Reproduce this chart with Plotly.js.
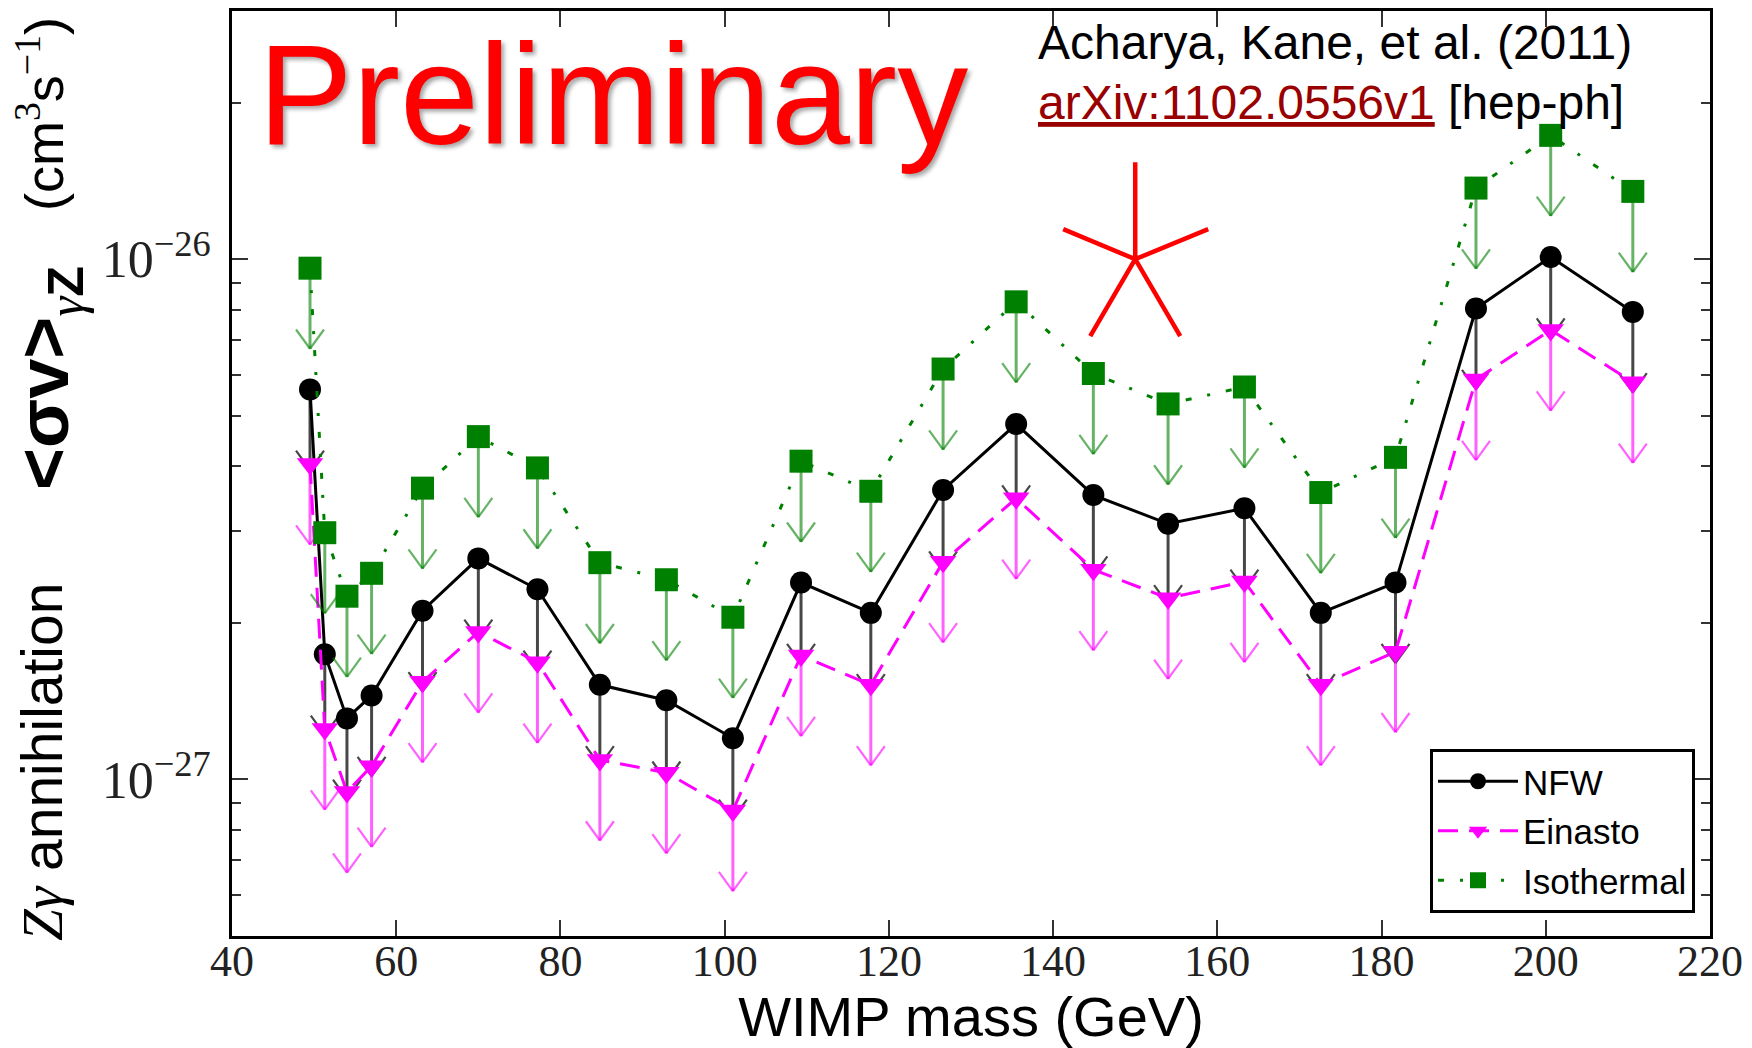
<!DOCTYPE html>
<html><head><meta charset="utf-8">
<script src="https://cdn.plot.ly/plotly-3.0.1.min.js"></script>
<style>html,body{margin:0;padding:0;background:#fff;} #chart{width:1752px;height:1048px;}</style>
</head><body><div id="chart"></div>
<script>
// ---- data ----
const wimpMass = [49.5, 51.3, 54.0, 57.0, 63.2, 70.0, 77.2, 84.8, 92.9, 101.0, 109.3, 117.8, 126.6, 135.5, 144.9, 154.0, 163.3, 172.6, 181.7, 191.5, 200.6, 210.6];
const sigmaNFW = [5.62e-27, 1.74e-27, 1.31e-27, 1.45e-27, 2.11e-27, 2.66e-27, 2.32e-27, 1.52e-27, 1.42e-27, 1.20e-27, 2.39e-27, 2.09e-27, 3.60e-27, 4.82e-27, 3.52e-27, 3.10e-27, 3.32e-27, 2.09e-27, 2.39e-27, 8.04e-27, 1.01e-26, 7.92e-27];
const sigmaEinasto = [4.04e-27, 1.25e-27, 9.46e-28, 1.06e-27, 1.54e-27, 1.92e-27, 1.68e-27, 1.09e-27, 1.03e-27, 8.71e-28, 1.73e-27, 1.52e-27, 2.62e-27, 3.47e-27, 2.53e-27, 2.23e-27, 2.40e-27, 1.52e-27, 1.76e-27, 5.87e-27, 7.31e-27, 5.80e-27];
const sigmaIsothermal = [9.61e-27, 2.98e-27, 2.25e-27, 2.49e-27, 3.63e-27, 4.56e-27, 3.97e-27, 2.61e-27, 2.42e-27, 2.05e-27, 4.09e-27, 3.58e-27, 6.15e-27, 8.28e-27, 6.03e-27, 5.27e-27, 5.68e-27, 3.56e-27, 4.16e-27, 1.37e-26, 1.73e-26, 1.35e-26];
const seriesNames = ['NFW', 'Einasto', 'Isothermal'];
const limitArrowFraction = 0.3;           // upper-limit arrows reach down to 70% of the limit
const xTickVals = [40, 60, 80, 100, 120, 140, 160, 180, 200, 220];
const yTickVals = [1e-27, 1e-26];
const yTickText = ['10<sup>\u221227</sup>', '10<sup>\u221226</sup>'];
const yRange = [5e-28, 3e-26];
const markerMass = [150];                 // red star
const markerSigma = [1e-26];

// minor ticks (2..9 in each decade)
const minorMult = [2, 3, 4, 5, 6, 7, 8, 9];
const yMinorVals = [];
[1e-28, 1e-27, 1e-26].forEach(d => minorMult.forEach(m => yMinorVals.push(m * d)));

function mainTrace(y, name, color, symbol, size, dash, stemColor) {
  return {
    x: wimpMass, y: y, name: name, type: 'scatter', mode: 'lines+markers',
    legendgroup: name,
    line: {color: color, width: 3, dash: dash},
    marker: {symbol: symbol, size: size, color: color, line: {width: 0}},
    error_y: {type: 'data', symmetric: false, array: y.map(() => 0),
              arrayminus: y.map(v => v * limitArrowFraction),
              color: stemColor, thickness: 3, width: 0}
  };
}
function armTrace(y, color, angle, name) {
  return {
    x: wimpMass, y: y.map(v => v * (1 - limitArrowFraction)), type: 'scatter', mode: 'markers',
    showlegend: false, hoverinfo: 'skip', legendgroup: name,
    marker: {symbol: 'line-ns', size: 17, angle: angle, standoff: 11.9,
             color: color, line: {color: color, width: 2.2}}
  };
}

const cNFW = '#000000', cEin = '#ff00ff', cIso = '#008000';
const sNFW = 'rgba(0,0,0,0.72)', sEin = 'rgba(255,0,255,0.62)', sIso = 'rgba(0,128,0,0.6)';

const traces = [
  mainTrace(sigmaNFW, seriesNames[0], cNFW, 'circle', 22, 'solid', sNFW),
  armTrace(sigmaNFW, sNFW, 144, seriesNames[0]),
  armTrace(sigmaNFW, sNFW, 216, seriesNames[0]),
  mainTrace(sigmaEinasto, seriesNames[1], cEin, 'triangle-down', 23, '20px,11px', sEin),
  armTrace(sigmaEinasto, sEin, 144, seriesNames[1]),
  armTrace(sigmaEinasto, sEin, 216, seriesNames[1]),
  mainTrace(sigmaIsothermal, seriesNames[2], cIso, 'square', 23, '6px,16px,3px,16px', sIso),
  armTrace(sigmaIsothermal, sIso, 144, seriesNames[2]),
  armTrace(sigmaIsothermal, sIso, 216, seriesNames[2])
];

const L = 232, R = 1710, T = 11, B = 936;
const px = v => (v - L) / (R - L);
const py = v => (B - v) / (B - T);

const serif = 'Liberation Serif, Times New Roman, serif';
const sans = 'Liberation Sans, Arial, sans-serif';

const layout = {
  width: 1752, height: 1048,
  margin: {l: L, r: 1752 - R, t: T, b: 1048 - B},
  paper_bgcolor: '#ffffff', plot_bgcolor: '#ffffff',
  showlegend: true,
  legend: {x: px(1695), y: py(913), xanchor: 'right', yanchor: 'bottom',
           bgcolor: '#ffffff', bordercolor: '#000000', borderwidth: 3,
           font: {family: sans, size: 35, color: '#000'},
           itemwidth: 80, traceorder: 'grouped', tracegroupgap: 1},
  xaxis: {
    range: [40, 220], tickmode: 'array', tickvals: xTickVals,
    ticks: 'inside', ticklen: 16, tickwidth: 2, tickcolor: '#333',
    showline: true, linewidth: 3, linecolor: '#000', mirror: 'ticks',
    showgrid: false, zeroline: false,
    tickfont: {family: serif, size: 44, color: '#222'},
    ticklabelstandoff: -16,
    title: {text: 'WIMP mass (GeV)', font: {family: sans, size: 56, color: '#000'}, standoff: 27},
    automargin: false
  },
  yaxis: {
    type: 'log', range: [Math.log10(yRange[0]), Math.log10(yRange[1])],
    tickmode: 'array', tickvals: yTickVals, ticktext: yTickText,
    ticks: 'inside', ticklen: 16, tickwidth: 2, tickcolor: '#333',
    minor: {tickmode: 'array', tickvals: yMinorVals, ticks: 'inside', ticklen: 9, tickwidth: 2, tickcolor: '#333', showgrid: false},
    showline: true, linewidth: 3, linecolor: '#000', mirror: 'ticks',
    showgrid: false, zeroline: false,
    tickfont: {family: serif, size: 52, color: '#222'},
    ticklabelstandoff: 8,
    automargin: false
  },
  shapes: [{
    type: 'path', xref: 'x', yref: 'y', xsizemode: 'pixel', ysizemode: 'pixel',
    xanchor: markerMass[0], yanchor: markerSigma[0],
    path: 'M0,0L0,97M0,0L-72,30M0,0L73,30M0,0L-45,-77M0,0L45,-77',
    line: {color: '#ff0000', width: 4.5}
  }],
  annotations: [
    {xref: 'paper', yref: 'paper', x: px(613), y: py(95), xanchor: 'center', yanchor: 'middle', showarrow: false,
     text: 'Preliminary', font: {family: sans, size: 142, color: '#ff0000', shadow: '3px 3px 4px rgba(0,0,0,0.35)'}},
    {xref: 'paper', yref: 'paper', x: px(1036), y: py(43), xanchor: 'left', yanchor: 'middle', showarrow: false,
     text: 'Acharya, Kane, et al. (2011)', font: {family: sans, size: 48, color: '#000'}},
    {xref: 'paper', yref: 'paper', x: px(1036), y: py(102), xanchor: 'left', yanchor: 'middle', showarrow: false,
     text: '<span style="color:#990000"><u>arXiv:1102.0556v1</u></span> [hep-ph]', font: {family: sans, size: 48, color: '#000'}},
    // y-axis title, three parts
    {xref: 'paper', yref: 'paper', x: px(42), y: py(762), xanchor: 'center', yanchor: 'middle', showarrow: false, textangle: -90,
     text: '<span style="font-family:Liberation Serif;font-style:italic">Z\u03b3</span> annihilation', font: {family: sans, size: 57, color: '#000'}},
    {xref: 'paper', yref: 'paper', x: px(48), y: py(378), xanchor: 'center', yanchor: 'middle', showarrow: false, textangle: -90,
     text: '<b>&lt;\u03c3v&gt;<sub><span style="font-family:Liberation Serif;font-style:italic;font-weight:normal">\u03b3</span>Z</sub></b>', font: {family: sans, size: 72, color: '#000'}},
    {xref: 'paper', yref: 'paper', x: px(40), y: py(114), xanchor: 'center', yanchor: 'middle', showarrow: false, textangle: -90,
     text: '(cm<sup><span style="font-family:Liberation Serif">3</span></sup>s<sup><span style="font-family:Liberation Serif">\u22121</span></sup>)', font: {family: sans, size: 54, color: '#000'}}
  ]
};

Plotly.newPlot('chart', traces, layout, {displayModeBar: false, staticPlot: true});
</script>
</body></html>
